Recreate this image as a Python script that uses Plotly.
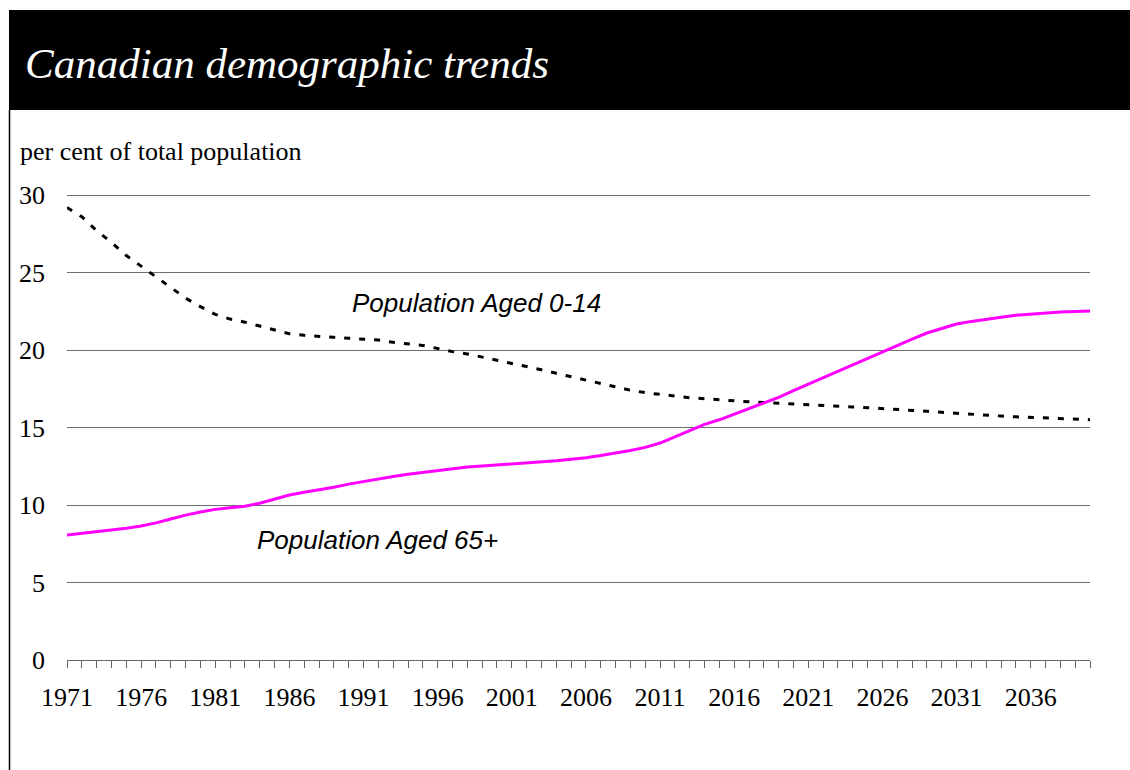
import plotly.graph_objects as go

years = list(range(1971, 2041))

aged_0_14 = [
    29.2, 28.6, 27.7, 26.95, 26.1, 25.4, 24.7, 24.0, 23.35, 22.8,
    22.3, 22.0, 21.8, 21.55, 21.3, 21.05, 20.95, 20.87, 20.82, 20.76,
    20.72, 20.65, 20.5, 20.4, 20.3, 20.1, 19.9, 19.75, 19.55, 19.35,
    19.12, 18.93, 18.73, 18.5, 18.28, 18.05, 17.83, 17.6, 17.41, 17.25,
    17.13, 17.02, 16.92, 16.86, 16.78, 16.72, 16.66, 16.61, 16.57, 16.53,
    16.48, 16.43, 16.38, 16.33, 16.28, 16.23, 16.17, 16.11, 16.05, 15.98,
    15.91, 15.84, 15.79, 15.74, 15.69, 15.65, 15.61, 15.58, 15.54, 15.51,
]

aged_65_plus = [
    8.07, 8.18, 8.28, 8.38, 8.5, 8.65, 8.85, 9.1, 9.35, 9.55,
    9.72, 9.82, 9.92, 10.12, 10.38, 10.65, 10.82, 10.98, 11.15, 11.35,
    11.52, 11.68, 11.84, 11.98, 12.1, 12.22, 12.32, 12.45, 12.52, 12.58,
    12.65, 12.72, 12.78, 12.86, 12.95, 13.05, 13.2, 13.35, 13.52, 13.72,
    14.0, 14.4, 14.8, 15.2, 15.5, 15.85, 16.2, 16.55, 16.95, 17.38,
    17.8, 18.2, 18.62, 19.03, 19.45, 19.88, 20.3, 20.7, 21.1, 21.4,
    21.68, 21.85, 22.0, 22.12, 22.25, 22.33, 22.4, 22.46, 22.49, 22.52,
]

title_text = "Canadian demographic trends"
y_title = "per cent of total population"
label_0_14 = "Population Aged 0-14"
label_65 = "Population Aged 65+"

W, H = 1130, 770
L, R, T, B = 67, 1090, 194, 660


def px(x):
    return (x - L) / (R - L)


def py(y):
    return (B - y) / (B - T)


SERIF = "Liberation Serif, Times New Roman, serif"
SANS = "Liberation Sans, Arial, sans-serif"

fig = go.Figure()
fig.add_trace(go.Scatter(
    x=years, y=aged_0_14, mode="lines", name=label_0_14,
    line=dict(color="black", width=3, dash="6px,9px"),
))
fig.add_trace(go.Scatter(
    x=years, y=aged_65_plus, mode="lines", name=label_65,
    line=dict(color="#FF00FF", width=3),
))

fig.update_layout(
    width=W, height=H,
    margin=dict(l=L, r=W - R, t=T, b=H - B, pad=0),
    paper_bgcolor="white", plot_bgcolor="white",
    showlegend=False,
    font=dict(family=SERIF, size=26, color="black"),
    xaxis=dict(
        range=[1971, 2040], tick0=1971, dtick=5,
        ticks="outside", ticklen=7, tickcolor="#666666", tickwidth=1,
        showline=True, linecolor="#666666", linewidth=1,
        showgrid=False, zeroline=False,
        minor=dict(dtick=1, tick0=1971, ticks="outside", ticklen=7,
                   tickcolor="#666666", tickwidth=1, showgrid=False),
        tickfont=dict(family=SERIF, size=26, color="black"),
        ticklabelstandoff=7,
    ),
    yaxis=dict(
        range=[0, 30.07], dtick=5, tick0=0,
        showgrid=True, gridcolor="#6e6e6e", gridwidth=1,
        zeroline=False, showline=False, ticks="",
        tickfont=dict(family=SERIF, size=26, color="black"),
        ticklabelstandoff=21,
    ),
    shapes=[
        dict(type="rect", xref="paper", yref="paper",
             x0=px(9), x1=px(1135), y0=py(110), y1=py(10),
             fillcolor="black", line=dict(width=0), layer="above"),
        dict(type="line", xref="paper", yref="paper",
             x0=px(9.5), x1=px(9.5), y0=py(110), y1=py(775),
             line=dict(color="black", width=1.5)),
    ],
    annotations=[
        dict(text=title_text, xref="paper", yref="paper",
             x=px(23), y=py(63), xanchor="left", yanchor="middle",
             showarrow=False,
             font=dict(family=SERIF, size=43, color="white", style="italic")),
        dict(text=y_title, xref="paper", yref="paper",
             x=px(18), y=py(151), xanchor="left", yanchor="middle",
             showarrow=False,
             font=dict(family=SERIF, size=26, color="black")),
        dict(text=label_0_14, xref="paper", yref="paper",
             x=px(350), y=py(303), xanchor="left", yanchor="middle",
             showarrow=False,
             font=dict(family=SANS, size=26, color="black", style="italic")),
        dict(text=label_65, xref="paper", yref="paper",
             x=px(255), y=py(540), xanchor="left", yanchor="middle",
             showarrow=False,
             font=dict(family=SANS, size=26, color="black", style="italic")),
    ],
)

fig.write_html("out.html")
